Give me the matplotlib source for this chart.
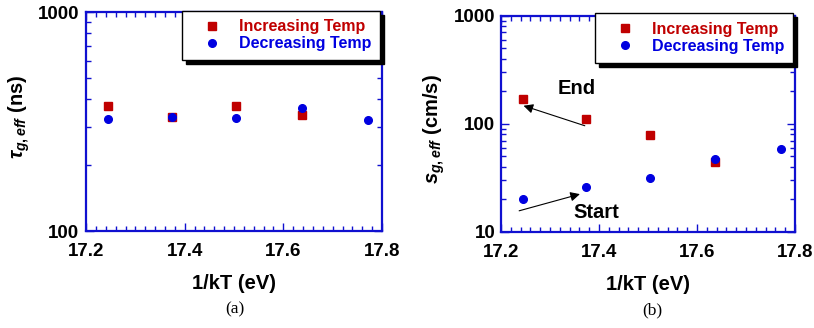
import matplotlib
matplotlib.use("Agg")
import matplotlib.pyplot as plt
from matplotlib.ticker import FixedLocator, LogLocator, NullFormatter, FuncFormatter

# data
inv_kT = [17.244, 17.374, 17.504, 17.637, 17.772]
tau_inc = [371, 332, 373, 338]
tau_dec = [325, 330, 327, 366, 320]
s_inc = [169, 111, 79, 44]
s_dec = [20.3, 26, 31.3, 47.2, 58.4]

RED = '#c00000'
BLUE = '#0000e0'
AXBLUE = '#1010d0'

plt.rcParams['font.family'] = ['Liberation Sans', 'DejaVu Sans']
plt.rcParams['font.weight'] = 'bold'
plt.rcParams['mathtext.fontset'] = 'custom'
plt.rcParams['mathtext.rm'] = 'Liberation Sans:bold'
plt.rcParams['mathtext.it'] = 'Liberation Sans:italic:bold'
plt.rcParams['mathtext.bf'] = 'Liberation Sans:bold'

fig = plt.figure(figsize=(8.14, 3.28), dpi=100)
ax_a = fig.add_axes([0.1057, 0.2957, 0.3636, 0.6677])
ax_b = fig.add_axes([0.6155, 0.2927, 0.3612, 0.6595])


def style_axes(ax, ylim, yticks, ypad):
  ax.set_yscale('log')
  ax.set_xlim(17.2, 17.8)
  ax.set_ylim(*ylim)
  for sp in ax.spines.values():
    sp.set_color(AXBLUE)
    sp.set_linewidth(1.6)
  ax.xaxis.set_major_locator(FixedLocator([17.2, 17.4, 17.6, 17.8]))
  ax.xaxis.set_minor_locator(FixedLocator([17.2 + 0.02 * i for i in range(31)]))
  ax.xaxis.set_major_formatter(FuncFormatter(lambda v, p: '%.1f' % v))
  ax.yaxis.set_major_locator(FixedLocator(yticks))
  ax.yaxis.set_minor_locator(LogLocator(base=10, subs=range(2, 10)))
  ax.yaxis.set_major_formatter(FuncFormatter(lambda v, p: '%d' % v))
  ax.yaxis.set_minor_formatter(NullFormatter())
  ax.tick_params(which='both', direction='in', top=True, right=True,
                 color=AXBLUE, width=1.0, labelsize=13.5)
  ax.tick_params(which='major', length=6)
  ax.tick_params(which='minor', length=3.5)
  ax.tick_params(axis='x', which='major', pad=8.5)
  ax.tick_params(axis='y', which='major', pad=ypad)
  ax.set_xlabel('1/kT (eV)', fontsize=14.5, fontweight='bold', labelpad=10)


def add_legend(ax, anchor):
  leg = ax.legend(loc='upper right', bbox_to_anchor=anchor, borderaxespad=0,
                  fontsize=11.5, handlelength=2.7, handletextpad=0.3,
                  borderpad=0.55, labelspacing=0.12, fancybox=False,
                  framealpha=1, edgecolor='black',
                  shadow={'ox': 3, 'oy': -3, 'facecolor': 'black',
                          'edgecolor': 'black', 'alpha': 1})
  leg.get_frame().set_linewidth(1.0)
  for txt, c in zip(leg.get_texts(), [RED, BLUE]):
    txt.set_color(c)
  return leg


# panel (a)
ax_a.plot(inv_kT[:len(tau_inc)], tau_inc, 's', color=RED, ms=5.5, ls='none',
          label='Increasing Temp', zorder=3)
ax_a.plot(inv_kT, tau_dec, 'o', color=BLUE, ms=5.5, ls='none',
          label='Decreasing Temp', zorder=3)
style_axes(ax_a, (100, 1000), [100, 1000], 5)
ax_a.set_ylabel(r'$\tau_{g,eff}$ (ns)', fontsize=14.5, fontweight='bold')
ax_a.yaxis.set_label_coords(-0.182, 0.523)
add_legend(ax_a, (0.993, 1.006))
fig.text(0.288, 0.058, '(a)', family='Liberation Serif', fontweight='normal',
         fontsize=12.5, ha='center', va='center')

# panel (b)
ax_b.plot(inv_kT[:len(s_inc)], s_inc, 's', color=RED, ms=5.5, ls='none',
          label='Increasing Temp', zorder=3)
ax_b.plot(inv_kT, s_dec, 'o', color=BLUE, ms=5.5, ls='none',
          label='Decreasing Temp', zorder=3)
style_axes(ax_b, (10, 1000), [10, 100, 1000], 4)
ax_b.set_ylabel(r'$s_{g,eff}$ (cm/s)', fontsize=14.5, fontweight='bold')
ax_b.yaxis.set_label_coords(-0.184, 0.477)
add_legend(ax_b, (0.993, 1.012))

ax_b.annotate('', xy=(17.246, 147), xytext=(17.371, 96),
              arrowprops=dict(arrowstyle='-|>', color='black', lw=0.8,
                              mutation_scale=14, shrinkA=0, shrinkB=0))
ax_b.annotate('', xy=(17.361, 22.4), xytext=(17.237, 15.7),
              arrowprops=dict(arrowstyle='-|>', color='black', lw=0.8,
                              mutation_scale=14, shrinkA=0, shrinkB=0))
ax_b.text(17.354, 213, 'End', fontsize=14.5, fontweight='bold',
          ha='center', va='center')
ax_b.text(17.395, 15.0, 'Start', fontsize=14.5, fontweight='bold',
          ha='center', va='center')
fig.text(0.801, 0.055, '(b)', family='Liberation Serif', fontweight='normal',
         fontsize=12.5, ha='center', va='center')

fig.savefig('out.png', dpi=100)
